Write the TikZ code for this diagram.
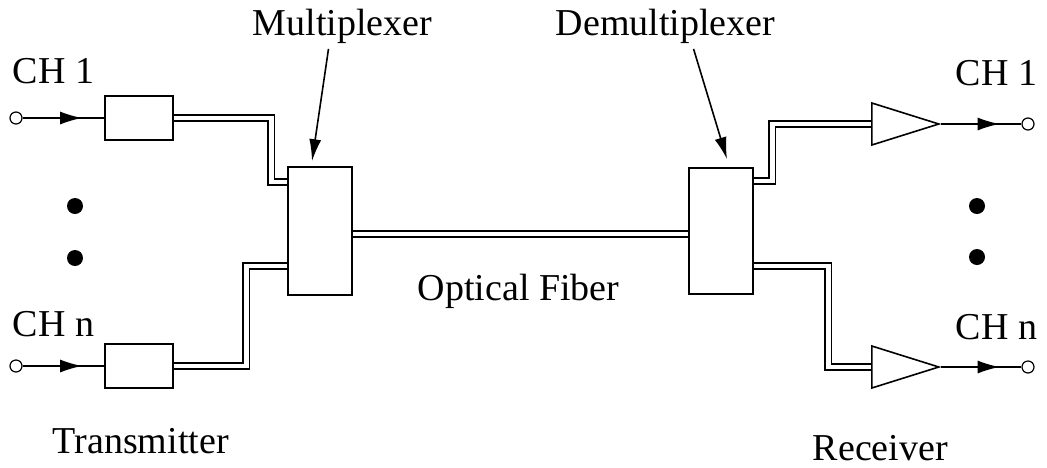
\documentclass[tikz,border=0pt]{standalone}
\usepackage{fontspec}
\setmainfont{Liberation Serif}
\usetikzlibrary{positioning,shapes.geometric,arrows.meta,decorations.markings}

\begin{document}
\begin{tikzpicture}[x=1pt, y=-1pt, line width=1.6pt,
  blk/.style={draw, minimum width=68pt, minimum height=44pt, inner sep=0pt},
  mx/.style={draw, minimum width=64pt, minimum height=128pt, inner sep=0pt},
  amp/.style={draw, isosceles triangle, isosceles triangle stretches, shape border rotate=0,
              minimum width=42pt, minimum height=67pt, inner sep=0pt, anchor=west},
  port/.style={draw, circle, line width=1.2pt, minimum size=12pt, inner sep=0pt},
  dotnode/.style={circle, fill, minimum size=16pt, inner sep=0pt},
  fib/.style={double, double distance=4.8pt},
  sig/.style={postaction=decorate, decoration={markings,
              mark=at position 0.73 with {\arrow{Latex[length=22pt,width=13pt]}}}},
  ptr/.style={-{Latex[length=22pt,width=12pt]}},
  lbl/.style={font=\fontsize{38}{42}\selectfont, inner sep=0pt, anchor=base west}]

  \useasboundingbox (0,0) rectangle (1047,467);

  % transmitter side
  \node [port] (in1) at (16,118) {};
  \node [port] (inn) at (16,366) {};
  \node [blk] (tx1) at (139,118) {};
  \node [blk] (txn) at (139,366) {};
  \node [dotnode] (dl1) at (75,206) {};
  \node [dotnode] (dl2) at (75,258) {};

  % mux / demux
  \node [mx] (mux) at (320,231) {};
  \node [mx, minimum height=126pt] (dmx) at (721,231) {};

  % receiver side
  \node [amp] (amp1) at (871,124) {};
  \node [amp] (ampn) at (871,367) {};
  \node [port] (out1) at (1028,124) {};
  \node [port] (outn) at (1028,367) {};
  \node [dotnode] (dr1) at (977,206) {};
  \node [dotnode] (dr2) at (977,257) {};

  % texts
  \node [lbl] (ch1l) at (12,83) {CH 1};
  \node [lbl] (chnl) at (12,336) {CH n};
  \node [lbl] (ch1r) at (955,85) {CH 1};
  \node [lbl] (chnr) at (955,339) {CH n};
  \node [lbl] (mlbl) at (252,35) {Multiplexer};
  \node [lbl] (dlbl) at (555,35) {Demultiplexer};
  \node [lbl] (flbl) at (417,300) {Optical Fiber};
  \node [lbl] (tlbl) at (52,453) {Transmitter};
  \node [lbl] (rlbl) at (812,460) {Receiver};

  % signal lines
  \draw [sig] (in1) -- (tx1);
  \draw [sig] (inn) -- (txn);
  \draw [sig] (amp1.apex) -- (out1);
  \draw [sig] (ampn.apex) -- (outn);

  % fibers
  \draw [fib] (tx1.east) -- ++(97.5,0) |- ([yshift=49pt]mux.west);
  \draw [fib] (txn.east) -- ++(72.5,0) |- ([yshift=-35pt]mux.west);
  \draw [fib] ([yshift=-3pt]mux.east) -- ([yshift=-3pt]dmx.west);
  \draw [fib] ([yshift=50pt]dmx.east) -- ++(18.5,0) |- (amp1.west);
  \draw [fib] ([yshift=-35pt]dmx.east) -- ++(74.5,0) |- (ampn.west);

  % pointers
  \draw [ptr] ([xshift=-14pt,yshift=-5pt]mlbl.south) -- ([xshift=-8pt,yshift=5pt]mux.north);
  \draw [ptr] ([xshift=28pt,yshift=-5pt]dlbl.south) -- ([xshift=6pt,yshift=8pt]dmx.north);
\end{tikzpicture}
\end{document}
